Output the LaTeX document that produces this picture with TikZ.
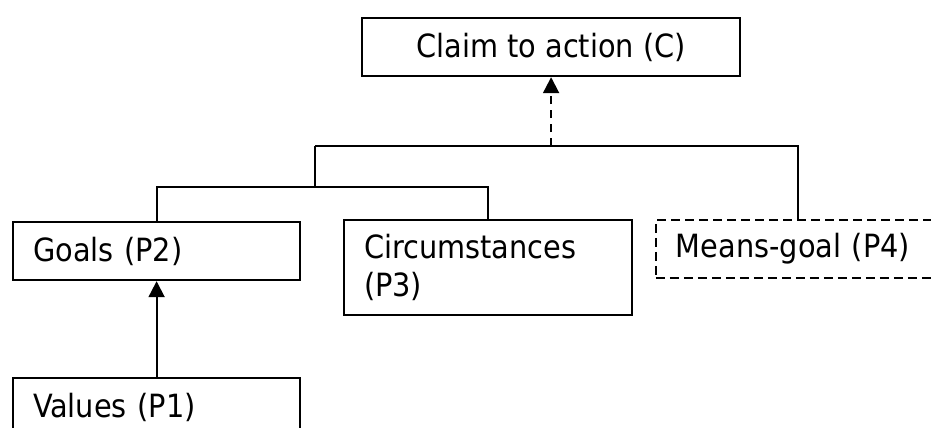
\documentclass[tikz,border=0pt]{standalone}
\usepackage{fontspec}
\setmainfont{DejaVu Sans Condensed}
\usetikzlibrary{arrows.meta}

\tikzstyle{concl} = [rectangle, draw=black, line width=2.2pt, anchor=north west, minimum width=378pt, minimum height=58pt, inner sep=0pt, font=\fontsize{32}{38}\selectfont]
\tikzstyle{premise} = [rectangle, draw=black, line width=2.2pt, anchor=north west, inner xsep=20pt, inner ysep=0pt, align=left, minimum height=58pt, font=\fontsize{32}{38}\selectfont]
\tikzstyle{hidden} = [premise, line width=1.8pt, dash pattern=on 9pt off 5pt]
\tikzstyle{link} = [line width=2pt]
\tikzstyle{arrow} = [line width=2pt, -{Triangle[length=16pt,width=16pt]}]
\tikzstyle{dasharrow} = [arrow, dash pattern=on 8pt off 6pt]

\begin{document}
\begin{tikzpicture}[x=1pt, y=-1pt]
    \useasboundingbox (0,0) rectangle (931,428);
    \clip (0,0) rectangle (931,428);

    \node (claim) [concl] at (361,17) {Claim to action (C)};

    \node (goals) [premise, text width=247pt] at (12,221) {Goals (P2)};
    \node (circ) [premise, text width=248pt, minimum height=95pt] at (343,219) {Circumstances\\(P3)};
    \node (means) [hidden, text width=244pt] at (655,219) {Means-goal (P4)};
    \node (values) [premise, text width=247pt] at (12,377) {Values (P1)};

    \coordinate (bar0) at (315,146);
    \coordinate (bar1) at (315,187);

    \draw [link] (bar0) -| (means.north);
    \draw [link] (bar1) -- (bar0);
    \draw [link] (goals.north) |- (bar1) -| (circ.north);
    \draw [dasharrow] (claim.south |- bar0) -- (claim.south);
    \draw [arrow] (values) -- (goals);
\end{tikzpicture}
\end{document}
